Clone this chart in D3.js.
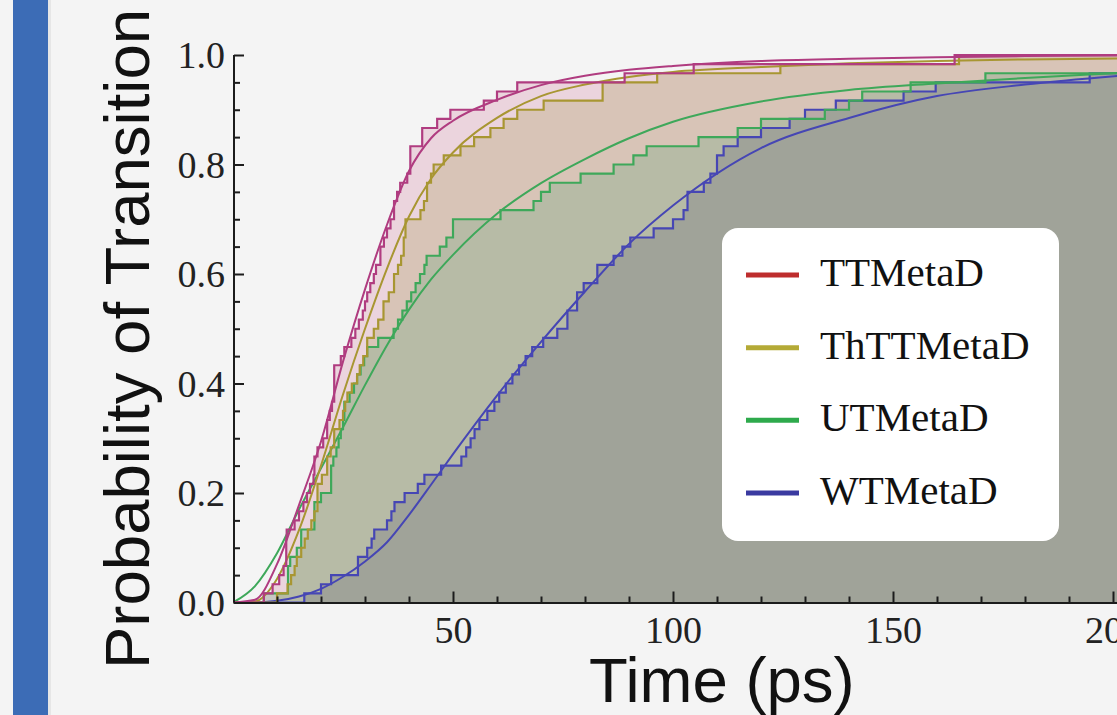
<!DOCTYPE html>
<html>
<head>
<meta charset="utf-8">
<script src="https://cdn.jsdelivr.net/npm/d3@7"></script>
<style>
  html, body { margin: 0; padding: 0; background: #f4f4f4; overflow: hidden; }
  svg { display: block; }
</style>
</head>
<body>
<svg id="chart" width="1117" height="715"></svg>
<script>
// ---- data -------------------------------------------------------------
const seriesNames = ["TTMetaD", "ThTTMetaD", "UTMetaD", "WTMetaD"];
const sampleSizes = [60, 60, 60, 60];

// observed transition times (ps), sorted, one per run
const ttTimes = [7, 9, 10.5, 11.5, 12.1, 12.1, 12.1, 12.2, 14, 15, 16, 16.8, 17.5, 18.3, 18.5,
  18.5, 19.2, 20.5, 21.4, 21.4, 22, 22.5, 23, 23, 23, 23, 24.5, 25.3, 26.9, 27.8,
  28.6, 29.5, 30, 30.5, 31.2, 32, 32.5, 33.5, 33.5, 34.3, 35, 35.8, 36.6, 36.6, 37.3,
  38, 39.6, 40.3, 40.3, 40.3, 43, 43, 46.4, 49.4, 57, 60, 64.6, 89, 104.7, 164];
const thttTimes = [10, 12.4, 13.2, 14, 14.5, 15.5, 16.3, 17, 17.8, 18.5, 19.2, 19.2, 19.2, 20.2, 21.4,
  21.4, 22.2, 23, 23, 24.2, 25, 25.5, 26, 27, 28.2, 28.8, 29.6, 30.5, 30.5, 32,
  33, 34.2, 34.2, 35.4, 36.6, 36.6, 37.5, 38.2, 38.8, 38.8, 39.2, 39.2, 42.6, 43.4, 44.1,
  44.1, 45, 45.6, 47.9, 51.7, 54.8, 58.5, 61.5, 64.6, 70.6, 84, 84, 96.4, 124.4, 165];
const utTimes = [7, 12.5, 12.5, 12.5, 13, 14.5, 15.5, 15.5, 18.5, 18.5, 18.5, 20, 22.3, 22.3, 22.3,
  22.8, 23.5, 24, 24.5, 25, 25.3, 25.3, 26.5, 27.5, 28.2, 29, 29.8, 30.5, 33, 36.5,
  37.5, 38.5, 39.5, 40.5, 41.5, 42.5, 43.5, 44, 47, 48.5, 50, 50, 60.8, 68.3, 70,
  72, 79, 86.5, 91, 94, 105.8, 114.7, 120, 134.5, 140, 143, 154, 171];
const wtTimes = [16.2, 20, 22.3, 28.4, 28.4, 30.5, 31.5, 32.1, 35, 36, 36.7, 39, 42, 43.5, 47.3,
  51.9, 53, 54, 54.9, 56, 57.8, 59.4, 60.5, 62, 63.5, 65, 66.5, 68, 70.5, 73.7,
  76, 76, 78.2, 78.2, 79.7, 82.8, 82.8, 86.5, 88.5, 90.3, 95.6, 100, 102.4, 103.3, 103.3,
  107, 108.5, 110, 110, 111.5, 114.7, 120, 126.5, 130, 137, 152.4, 159.7, 194.7];

// fitted cumulative distributions, sampled at fitTimes
const fitTimes = [0, 5, 10, 15, 20, 25, 30, 35, 40, 45, 50, 60, 70, 80, 90, 100, 120, 140, 160, 180, 203];
const ttFit   = [0, 0.005, 0.07, 0.178, 0.294, 0.44, 0.572, 0.69, 0.788, 0.848, 0.88, 0.918, 0.945, 0.962, 0.973, 0.98, 0.989, 0.993, 0.996, 0.998, 0.999];
const thttFit = [0, 0.002, 0.043, 0.132, 0.25, 0.38, 0.5, 0.61, 0.705, 0.774, 0.822, 0.885, 0.925, 0.946, 0.96, 0.969, 0.978, 0.985, 0.989, 0.992, 0.994];
const utFit   = [0, 0.03, 0.09, 0.17, 0.245, 0.32, 0.397, 0.47, 0.535, 0.59, 0.635, 0.71, 0.766, 0.81, 0.848, 0.878, 0.915, 0.936, 0.948, 0.958, 0.968];
const wtFit   = [0, 0, 0.003, 0.011, 0.025, 0.047, 0.075, 0.11, 0.16, 0.215, 0.271, 0.378, 0.476, 0.568, 0.655, 0.725, 0.83, 0.885, 0.925, 0.946, 0.963];

const xMajorTicks = [50, 100, 150, 200];
const yMajorTicks = [0, 0.2, 0.4, 0.6, 0.8, 1.0];

// ---- styling ------------------------------------------------------------
const lineColors   = ["#b03c80", "#a89632", "#3ea85a", "#4646b4"];
const legendColors = ["#be2d2d", "#b4aa36", "#2eaa4c", "#3a3aa0"];
const fillColors   = ["rgb(200,85,130)", "rgb(141,133,37)", "rgb(57,157,100)", "rgb(70,69,103)"];
const fillOpacity  = 0.2;

const W = 1117, H = 715;
const svg = d3.select("#chart");

// side accent bar
svg.append("rect").attr("x", 13).attr("y", 0).attr("width", 35).attr("height", H)
  .attr("fill", "#3c6cb6");
svg.append("rect").attr("x", 48).attr("y", 0).attr("width", 3).attr("height", H)
  .attr("fill", "#dcdcdc").attr("opacity", 0.6);

// scales
const x = d3.scaleLinear().domain([0, 203]).range([233, 233 + 203 * 4.4]);
const y = d3.scaleLinear().domain([0, 1]).range([602.5, 55]);

const defs = svg.append("defs");
defs.append("clipPath").attr("id", "plotClip")
  .append("rect").attr("x", x(0)).attr("y", y(1) - 4)
  .attr("width", W - x(0)).attr("height", y(0) - y(1) + 4);

const plot = svg.append("g").attr("clip-path", "url(#plotClip)");

// empirical CDF points
function ecdf(times, n) {
  const pts = [{ t: 0, p: 0 }];
  times.forEach((t, i) => pts.push({ t: t, p: (i + 1) / n }));
  pts.push({ t: x.domain()[1], p: times.length / n });
  return pts;
}
const stepData = [ttTimes, thttTimes, utTimes, wtTimes].map((ts, i) => ecdf(ts, sampleSizes[i]));
const fitData = [ttFit, thttFit, utFit, wtFit].map(vals => vals.map((p, i) => ({ t: fitTimes[i], p: p })));

const area = d3.area().x(d => x(d.t)).y0(y(0)).y1(d => y(d.p)).curve(d3.curveStepAfter);
const stepLine = d3.line().x(d => x(d.t)).y(d => y(d.p)).curve(d3.curveStepAfter);
const fitLine = d3.line().x(d => x(d.t)).y(d => y(d.p)).curve(d3.curveMonotoneX);

// shaded regions under each empirical distribution
stepData.forEach((d, i) => {
  plot.append("path").datum(d).attr("d", area)
    .attr("fill", fillColors[i]).attr("fill-opacity", fillOpacity).attr("stroke", "none");
});

// fitted curves and step curves
[3, 2, 1, 0].forEach(i => {
  plot.append("path").datum(fitData[i]).attr("d", fitLine)
    .attr("fill", "none").attr("stroke", lineColors[i]).attr("stroke-width", 2);
  plot.append("path").datum(stepData[i]).attr("d", stepLine)
    .attr("fill", "none").attr("stroke", lineColors[i]).attr("stroke-width", 2.2)
    .attr("stroke-linejoin", "miter");
});

// ---- axes -----------------------------------------------------------------
const xMinor = d3.range(10, 201, 10).filter(v => v % 50 !== 0);
const yMinor = d3.range(0.05, 1.0, 0.05).filter(v => Math.abs(v * 5 - Math.round(v * 5)) > 1e-6);

const axisColor = "#1c1c1c";
const tickFont = "'Liberation Serif', 'Times New Roman', serif";

const gx = svg.append("g").attr("transform", `translate(0,${y(0)})`)
  .call(d3.axisBottom(x).tickValues(xMajorTicks).tickSize(-11).tickSizeOuter(0).tickFormat(d3.format("d")));
const gxMinor = svg.append("g").attr("transform", `translate(0,${y(0)})`)
  .call(d3.axisBottom(x).tickValues(xMinor).tickSize(-6).tickSizeOuter(0).tickFormat(""));
const gy = svg.append("g").attr("transform", `translate(${x(0) + 1},0)`)
  .call(d3.axisLeft(y).tickValues(yMajorTicks).tickSize(-10).tickSizeOuter(0).tickFormat(d3.format(".1f")));
const gyMinor = svg.append("g").attr("transform", `translate(${x(0) + 1},0)`)
  .call(d3.axisLeft(y).tickValues(yMinor).tickSize(-6).tickSizeOuter(0).tickFormat(""));

[gx, gxMinor, gy, gyMinor].forEach(g => {
  g.selectAll(".domain").attr("stroke", axisColor).attr("stroke-width", 2);
  g.selectAll(".tick line").attr("stroke", axisColor).attr("stroke-width", 2);
});
gxMinor.select(".domain").remove();
gyMinor.select(".domain").remove();
gy.select(".domain").attr("d", `M0,${y(0)}V${y(1)}`);

gx.selectAll(".tick text")
  .attr("y", 40).attr("dy", 0)
  .attr("font-family", tickFont).attr("font-size", 38).attr("fill", "#222");
gy.selectAll(".tick text")
  .attr("x", -9).attr("dy", "0.33em")
  .attr("font-family", tickFont).attr("font-size", 38).attr("fill", "#222");

// axis titles
const sansFont = "'Liberation Sans', Arial, Helvetica, sans-serif";
svg.append("text")
  .attr("transform", "translate(149,669) rotate(-90)")
  .attr("text-anchor", "start")
  .attr("font-family", sansFont).attr("font-size", 63.5).attr("fill", "#111")
  .text("Probability of Transition");
svg.append("text")
  .attr("x", 589).attr("y", 702)
  .attr("font-family", sansFont).attr("font-size", 63.5).attr("fill", "#111")
  .text("Time (ps)");

// ---- legend -----------------------------------------------------------------
const legend = svg.append("g");
legend.append("rect").attr("x", 722).attr("y", 228).attr("width", 337).attr("height", 313)
  .attr("rx", 16).attr("ry", 16).attr("fill", "#ffffff");
const rowY = d3.scaleLinear().domain([0, 3]).range([275, 493]);
seriesNames.forEach((name, i) => {
  legend.append("line")
    .attr("x1", 746).attr("x2", 799).attr("y1", rowY(i)).attr("y2", rowY(i))
    .attr("stroke", legendColors[i]).attr("stroke-width", 5);
  legend.append("text")
    .attr("x", 820).attr("y", rowY(i) + 11)
    .attr("font-family", tickFont).attr("font-size", 41).attr("fill", "#111")
    .text(name);
});
</script>
</body>
</html>
